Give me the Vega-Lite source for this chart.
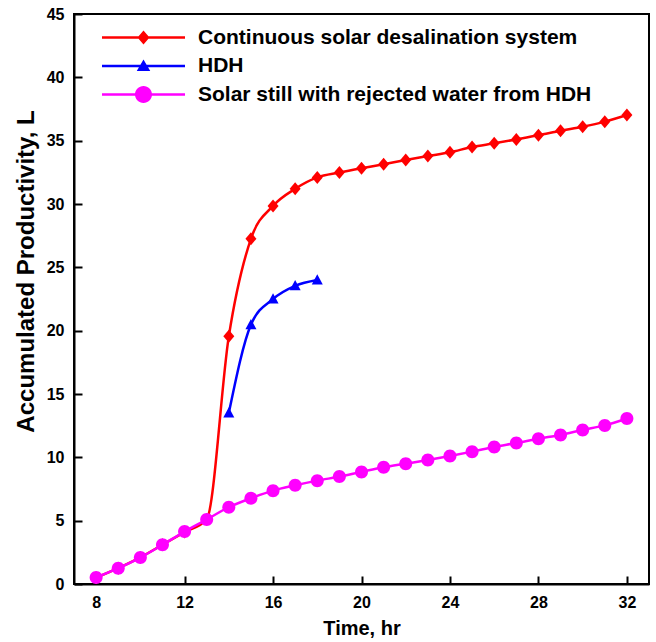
{
  "$schema": "https://vega.github.io/schema/vega-lite/v6.json",
  "width": 575,
  "height": 570,
  "autosize": {"type": "none"},
  "padding": {"left": 74, "top": 14, "right": 7, "bottom": 58},
  "background": "white",
  "config": {
    "font": "Liberation Sans",
    "view": {"stroke": "black", "strokeWidth": 2},
    "axis": {
      "domainColor": "black", "domainWidth": 2,
      "tickColor": "black", "tickWidth": 2,
      "grid": false,
      "labelFont": "Liberation Sans", "labelFontWeight": "bold", "labelFontSize": 16, "labelColor": "black",
      "titleFont": "Liberation Sans", "titleFontWeight": "bold", "titleFontSize": 20, "titleColor": "black"
    }
  },
  "data": {"values": [
    {"series": "Continuous solar desalination system", "time": 8, "value": 0.5},
    {"series": "Continuous solar desalination system", "time": 9, "value": 1.25},
    {"series": "Continuous solar desalination system", "time": 10, "value": 2.1},
    {"series": "Continuous solar desalination system", "time": 11, "value": 3.1},
    {"series": "Continuous solar desalination system", "time": 12, "value": 4.1},
    {"series": "Continuous solar desalination system", "time": 13, "value": 5.1},
    {"series": "Continuous solar desalination system", "time": 14, "value": 19.55},
    {"series": "Continuous solar desalination system", "time": 15, "value": 27.25},
    {"series": "Continuous solar desalination system", "time": 16, "value": 29.85},
    {"series": "Continuous solar desalination system", "time": 17, "value": 31.2},
    {"series": "Continuous solar desalination system", "time": 18, "value": 32.1},
    {"series": "Continuous solar desalination system", "time": 19, "value": 32.48},
    {"series": "Continuous solar desalination system", "time": 20, "value": 32.82},
    {"series": "Continuous solar desalination system", "time": 21, "value": 33.14},
    {"series": "Continuous solar desalination system", "time": 22, "value": 33.48},
    {"series": "Continuous solar desalination system", "time": 23, "value": 33.79},
    {"series": "Continuous solar desalination system", "time": 24, "value": 34.08},
    {"series": "Continuous solar desalination system", "time": 25, "value": 34.5},
    {"series": "Continuous solar desalination system", "time": 26, "value": 34.79},
    {"series": "Continuous solar desalination system", "time": 27, "value": 35.1},
    {"series": "Continuous solar desalination system", "time": 28, "value": 35.42},
    {"series": "Continuous solar desalination system", "time": 29, "value": 35.78},
    {"series": "Continuous solar desalination system", "time": 30, "value": 36.1},
    {"series": "Continuous solar desalination system", "time": 31, "value": 36.5},
    {"series": "Continuous solar desalination system", "time": 32, "value": 37.03},
    {"series": "HDH", "time": 14, "value": 13.5},
    {"series": "HDH", "time": 15, "value": 20.47},
    {"series": "HDH", "time": 16, "value": 22.5},
    {"series": "HDH", "time": 17, "value": 23.54},
    {"series": "HDH", "time": 18, "value": 24.0},
    {"series": "Solar still with rejected water from HDH", "time": 8, "value": 0.51},
    {"series": "Solar still with rejected water from HDH", "time": 9, "value": 1.25},
    {"series": "Solar still with rejected water from HDH", "time": 10, "value": 2.09},
    {"series": "Solar still with rejected water from HDH", "time": 11, "value": 3.09},
    {"series": "Solar still with rejected water from HDH", "time": 12, "value": 4.14},
    {"series": "Solar still with rejected water from HDH", "time": 13, "value": 5.09},
    {"series": "Solar still with rejected water from HDH", "time": 14, "value": 6.06},
    {"series": "Solar still with rejected water from HDH", "time": 15, "value": 6.77},
    {"series": "Solar still with rejected water from HDH", "time": 16, "value": 7.37},
    {"series": "Solar still with rejected water from HDH", "time": 17, "value": 7.79},
    {"series": "Solar still with rejected water from HDH", "time": 18, "value": 8.16},
    {"series": "Solar still with rejected water from HDH", "time": 19, "value": 8.48},
    {"series": "Solar still with rejected water from HDH", "time": 20, "value": 8.85},
    {"series": "Solar still with rejected water from HDH", "time": 21, "value": 9.21},
    {"series": "Solar still with rejected water from HDH", "time": 22, "value": 9.5},
    {"series": "Solar still with rejected water from HDH", "time": 23, "value": 9.79},
    {"series": "Solar still with rejected water from HDH", "time": 24, "value": 10.11},
    {"series": "Solar still with rejected water from HDH", "time": 25, "value": 10.45},
    {"series": "Solar still with rejected water from HDH", "time": 26, "value": 10.82},
    {"series": "Solar still with rejected water from HDH", "time": 27, "value": 11.13},
    {"series": "Solar still with rejected water from HDH", "time": 28, "value": 11.47},
    {"series": "Solar still with rejected water from HDH", "time": 29, "value": 11.77},
    {"series": "Solar still with rejected water from HDH", "time": 30, "value": 12.16},
    {"series": "Solar still with rejected water from HDH", "time": 31, "value": 12.52},
    {"series": "Solar still with rejected water from HDH", "time": 32, "value": 13.07}
  ]},
  "resolve": {"axis": {"x": "independent", "y": "independent"}},
  "layer": [
    {"mark": {"type": "line", "interpolate": "monotone", "strokeWidth": 2.5},
     "encoding": {
       "x": {"field": "time", "type": "quantitative",
         "scale": {"domain": [7, 33], "nice": false, "zero": false},
         "axis": {"values": [8, 12, 16, 20, 24, 28, 32], "title": "Time, hr", "ticks": false, "labelPadding": 10, "titleY": 44, "titleBaseline": "middle"}},
       "y": {"field": "value", "type": "quantitative",
         "scale": {"domain": [0, 45], "nice": false},
         "axis": {"values": [0, 5, 10, 15, 20, 25, 30, 35, 40, 45], "title": "Accumulated Productivity, L", "titleFontSize": 24, "ticks": false, "labelPadding": 10, "titleX": -48, "titleY": 257, "titleBaseline": "middle"}},
       "color": {"field": "series", "type": "nominal",
         "scale": {"domain": ["Continuous solar desalination system", "HDH", "Solar still with rejected water from HDH"], "range": ["#ff0000", "#0000ff", "#ff00ff"]},
         "legend": {
           "orient": "none", "legendX": 20, "legendY": 13, "title": null, "padding": 0,
           "symbolSize": 100, "symbolStrokeWidth": 0, "symbolOffset": 39, "labelOffset": 44, "rowPadding": 6.5,
           "labelFont": "Liberation Sans", "labelFontWeight": "bold", "labelFontSize": 21, "labelColor": "black", "labelLimit": 600
         }}
     }},
    {"transform": [{"filter": "datum.series == 'Continuous solar desalination system'"}],
     "mark": {"type": "point", "filled": true, "opacity": 1, "size": 100, "strokeWidth": 0, "shape": "M0,-1.3L1.1,0L0,1.3L-1.1,0Z"},
     "encoding": {
       "x": {"field": "time", "type": "quantitative",
         "axis": {"orient": "top", "offset": -570, "values": [8, 12, 16, 20, 24, 28, 32], "title": null, "labels": false, "domain": false, "ticks": true, "tickSize": 8}},
       "y": {"field": "value", "type": "quantitative",
         "axis": {"orient": "right", "offset": -575, "values": [0, 5, 10, 15, 20, 25, 30, 35, 40, 45], "title": null, "labels": false, "domain": false, "ticks": true, "tickSize": 8}},
       "color": {"field": "series", "type": "nominal"}
     }},
    {"transform": [{"filter": "datum.series == 'HDH'"}],
     "mark": {"type": "point", "filled": true, "opacity": 1, "size": 100, "strokeWidth": 0, "shape": "M0,-1.15L1.1,0.9L-1.1,0.9Z"},
     "encoding": {
       "x": {"field": "time", "type": "quantitative", "axis": null},
       "y": {"field": "value", "type": "quantitative", "axis": null},
       "color": {"field": "series", "type": "nominal"}
     }},
    {"transform": [{"filter": "datum.series == 'Solar still with rejected water from HDH'"}],
     "mark": {"type": "point", "filled": true, "opacity": 1, "size": 100, "strokeWidth": 0, "shape": "M1.3,0A1.3,1.3,0,1,1,-1.3,0A1.3,1.3,0,1,1,1.3,0Z"},
     "encoding": {
       "x": {"field": "time", "type": "quantitative", "axis": null},
       "y": {"field": "value", "type": "quantitative", "axis": null},
       "color": {"field": "series", "type": "nominal"}
     }},
    {"transform": [{"filter": "datum.time > 100"}],
     "mark": {"type": "point", "filled": true, "opacity": 1, "size": 100, "strokeWidth": 0},
     "encoding": {
       "x": {"field": "time", "type": "quantitative", "axis": null},
       "y": {"field": "value", "type": "quantitative", "axis": null},
       "color": {"field": "series", "type": "nominal"},
       "shape": {"field": "series", "type": "nominal",
         "scale": {"domain": ["Continuous solar desalination system", "HDH", "Solar still with rejected water from HDH"],
           "range": [
             "M-8.3,-0.25H8.3V0.25H-8.3ZM0,-1.4L1.2,0L0,1.4L-1.2,0Z",
             "M-8.3,-0.25H8.3V0.25H-8.3ZM0,-1.3L1.35,1L-1.35,1Z",
             "M-8.3,-0.25H8.3V0.25H-8.3ZM1.7,0A1.7,1.7,0,1,1,-1.7,0A1.7,1.7,0,1,1,1.7,0Z"]}}
     }}
  ]
}
